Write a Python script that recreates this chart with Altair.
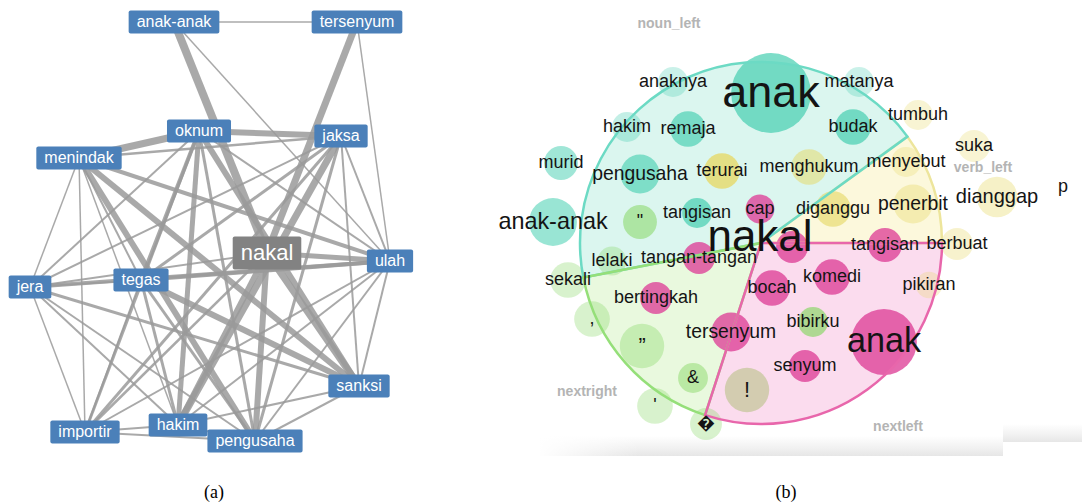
import math
import altair as alt
import pandas as pd

W, H = 1082, 503

# ---------------- (a) co-occurrence network ----------------
node_names = ["anak-anak", "tersenyum", "oknum", "jaksa", "menindak", "nakal", "ulah",
              "tegas", "jera", "sanksi", "hakim", "importir", "pengusaha"]
node_x = [174, 357, 199, 341, 79, 267, 390, 141, 30, 359, 178, 85, 255]
node_y = [22, 22, 131, 136, 158, 253, 261, 280, 287, 386, 425, 432, 441]

edge_src = ["anak-anak", "anak-anak", "anak-anak", "tersenyum", "tersenyum", "oknum", "menindak",
            "menindak", "menindak", "menindak", "menindak", "menindak", "menindak", "menindak",
            "menindak", "oknum", "oknum", "oknum", "oknum", "oknum", "oknum", "oknum", "jaksa",
            "jaksa", "jaksa", "jaksa", "jaksa", "jaksa", "jaksa", "nakal", "nakal", "nakal",
            "nakal", "nakal", "nakal", "tegas", "tegas", "tegas", "tegas", "tegas", "tegas",
            "jera", "jera", "jera", "jera", "jera", "importir", "importir", "importir", "hakim",
            "hakim", "hakim", "pengusaha", "pengusaha", "sanksi"]
edge_dst = ["tersenyum", "nakal", "ulah", "nakal", "ulah", "jaksa", "oknum",
            "jaksa", "sanksi", "pengusaha", "ulah", "tegas", "jera", "importir",
            "hakim", "sanksi", "hakim", "pengusaha", "importir", "tegas", "jera", "ulah", "hakim",
            "importir", "tegas", "jera", "ulah", "sanksi", "pengusaha", "ulah", "pengusaha", "hakim",
            "sanksi", "importir", "jera", "ulah", "sanksi", "hakim", "pengusaha", "jera", "importir",
            "ulah", "sanksi", "pengusaha", "hakim", "importir", "hakim", "pengusaha", "ulah", "pengusaha",
            "sanksi", "ulah", "sanksi", "ulah", "ulah"]
edge_w = [1.5, 8, 1.5, 7, 1.5, 6, 7,
          2.5, 6, 6, 4, 2, 1.5, 1.5,
          1.5, 6, 5, 3, 3, 4, 2, 2, 7,
          3, 3, 2, 2, 2, 3, 5, 6, 6,
          7, 2.5, 2, 4, 6, 3, 3, 2, 2,
          4, 3, 2, 2, 1.5, 2, 2, 2, 2,
          2, 2, 2, 2, 2]

# ---------------- (b) word pie around "nakal" ----------------
seg_names = ["noun_left", "verb_left", "nextleft", "nextright"]
seg_share = [155, 36, 108, 61]          # degrees of the circle per relation
seg_label_x = [669, 983, 898, 587]
seg_label_y = [24, 168, 427, 392]

b_word = ["anak", "anaknya", "matanya", "hakim", "remaja", "budak", "murid", "pengusaha",
          "tangisan", "anak-anak",
          "terurai", "menghukum", "tumbuh", "menyebut", "suka", "dianggap", "diganggu",
          "penerbit", "berbuat", "pikiran", "p",
          "cap", "tangisan", "komedi", "bocah", "", "tangan-tangan", "bertingkah",
          "tersenyum", "anak", "senyum",
          "\"", "bibirku", "lelaki", "sekali", ",", "\u201d", "&", "'", "\ufffd",
          "!"]
b_group = (["noun_left"] * 10 + ["verb_left"] * 11 + ["nextleft"] * 10
           + ["nextright"] * 9 + ["other"])
b_x = [771, 673, 859, 627, 688, 853, 561, 640, 697, 553,
       722, 809, 918, 906, 974, 997, 833, 913, 957, 929, 1063,
       760, 885, 832, 772, 792, 699, 656, 731, 884, 805,
       640, 813, 612, 568, 592, 642, 693, 655, 706,
       747]
b_y = [93, 82, 82, 127, 129, 127, 163, 174, 213, 222,
       171, 167, 115, 162, 146, 197, 209, 204, 244, 285, 187,
       209, 245, 277, 288, 247, 258, 298, 332, 342, 366,
       222, 322, 261, 280, 319, 346, 378, 406, 424,
       390]
b_freq = [100, 14, 14, 14, 20, 20, 18, 24, 14, 36,
          20, 20, 14, 14, 16, 26, 20, 24, 16, 11, 0,
          13, 18, 20, 20, 16, 16, 16, 24, 68, 16,
          18, 14, 13, 20, 20, 31, 14, 20, 16,
          31]
b_strength = [0.8, 0.25, 0.25, 0.3, 0.75, 0.8, 0.55, 0.7, 0.8, 0.6,
              0.9, 0.55, 0.25, 0.25, 0.25, 0.35, 0.7, 0.35, 0.3, 0.25, 0.0,
              0.9, 0.9, 0.9, 0.9, 0.9, 0.9, 0.9, 0.9, 0.9, 0.9,
              0.6, 0.75, 0.3, 0.3, 0.3, 0.35, 0.5, 0.3, 0.3,
              0.8]

captions = ["(a)", "(b)"]
caption_x = [214, 786]
caption_y = [493, 493]

# ---------------- styling helpers ----------------
FONT = "Liberation Sans"
CHAR_W = {"a": .556, "b": .556, "c": .5, "d": .556, "e": .556, "f": .278, "g": .556,
          "h": .556, "i": .222, "j": .222, "k": .5, "l": .222, "m": .833, "n": .556,
          "o": .556, "p": .556, "q": .556, "r": .333, "s": .5, "t": .278, "u": .556,
          "v": .5, "w": .722, "x": .5, "y": .5, "z": .5, "-": .333}


def text_width(s, fs):
    return sum(CHAR_W.get(c, .556) for c in s) * fs


xs = alt.Scale(domain=[0, W], nice=False, zero=False)
ys = alt.Scale(domain=[0, H], nice=False, zero=False, reverse=True)


def X(f):
    return alt.X(f, type="quantitative", scale=xs, axis=None)


def Y(f):
    return alt.Y(f, type="quantitative", scale=ys, axis=None)


# network tables
nodes = pd.DataFrame({"name": node_names, "x": node_x, "y": node_y})
nodes["key"] = nodes["name"] == "nakal"
nodes["fs"] = nodes["key"].map({True: 22, False: 16})
nodes["bw"] = [text_width(n, f) + 16 for n, f in zip(nodes["name"], nodes["fs"])]
nodes["bh"] = nodes["key"].map({True: 33, False: 23})
nodes["x0"] = nodes["x"] - nodes["bw"] / 2
nodes["x1"] = nodes["x"] + nodes["bw"] / 2
nodes["y0"] = nodes["y"] - nodes["bh"] / 2
nodes["y1"] = nodes["y"] + nodes["bh"] / 2
nodes["fill"] = nodes["key"].map({True: "#828282", False: "#4b80b9"})

pos = nodes.set_index("name")
edges = pd.DataFrame({"s": edge_src, "t": edge_dst, "w": edge_w})
edges["x"] = edges["s"].map(pos["x"])
edges["y"] = edges["s"].map(pos["y"])
edges["x2"] = edges["t"].map(pos["x"])
edges["y2"] = edges["t"].map(pos["y"])

edge_layer = alt.Chart(edges).mark_rule(color="#9a9a9a", opacity=0.85).encode(
    x=X("x"), y=Y("y"), x2="x2:Q", y2="y2:Q",
    strokeWidth=alt.StrokeWidth("w:Q", scale=None))
box_layer = alt.Chart(nodes).mark_rect(cornerRadius=2).encode(
    x=X("x0"), x2="x1:Q", y=Y("y0"), y2="y1:Q",
    color=alt.Color("fill:N", scale=None))
node_text = alt.Chart(nodes).mark_text(color="white", font=FONT, baseline="middle").encode(
    x=X("x"), y=Y("y"), text="name:N", size=alt.Size("fs:Q", scale=None))

# pie wedges
CX, CY, R = 761, 243, 181
START = 259  # clockwise angle (from 12 o'clock) where noun_left begins
seg = pd.DataFrame({"seg": seg_names, "share": seg_share})
ends = START + seg["share"].cumsum()
seg["t0"] = (ends - seg["share"]) * math.pi / 180
seg["t1"] = ends * math.pi / 180
seg["cx"], seg["cy"], seg["r"] = CX, CY, R
seg["fill"] = seg["seg"].map({"noun_left": "#dbf6ef", "verb_left": "#fcf8dc",
                              "nextleft": "#fbdcee", "nextright": "#e9f9de"})
seg["line"] = seg["seg"].map({"noun_left": "#6cdac4", "verb_left": "#ede59c",
                              "nextleft": "#e866ab", "nextright": "#95df79"})
outline = seg.set_index("seg").loc[["verb_left", "noun_left", "nextright", "nextleft"]].reset_index()

wedge_layer = alt.Chart(seg).mark_arc(stroke=None).encode(
    x=X("cx"), y=Y("cy"),
    theta=alt.Theta("t0:Q", scale=None, stack=False), theta2="t1:Q",
    radius=alt.Radius("r:Q", scale=None),
    color=alt.Color("fill:N", scale=None))
outline_layer = alt.Chart(outline).mark_arc(fillOpacity=0, strokeWidth=2.5).encode(
    x=X("cx"), y=Y("cy"),
    theta=alt.Theta("t0:Q", scale=None, stack=False), theta2="t1:Q",
    radius=alt.Radius("r:Q", scale=None),
    stroke=alt.Stroke("line:N", scale=None))

# word bubbles
words = pd.DataFrame({"word": b_word, "group": b_group, "x": b_x, "y": b_y,
                      "freq": b_freq, "strength": b_strength})
BUBBLE_MAX_R = 45
words["area"] = math.pi * (BUBBLE_MAX_R ** 2) * words["freq"] / 100
words["op"] = 0.1 + 0.75 * words["strength"]
words["col"] = words["group"].map({"noun_left": "#46cfb1", "verb_left": "#e6d865",
                                   "nextleft": "#dd3f97", "nextright": "#86d764",
                                   "other": "#c2c495"})
words["fs"] = (18 + (words["freq"] - 20) * 27 / 80).clip(18, 45)

bubble_layer = alt.Chart(words).mark_circle(stroke=None).encode(
    x=X("x"), y=Y("y"),
    size=alt.Size("area:Q", scale=None),
    color=alt.Color("col:N", scale=None),
    opacity=alt.Opacity("op:Q", scale=None))
word_layer = alt.Chart(words).mark_text(font=FONT, color="#141414", baseline="middle").encode(
    x=X("x"), y=Y("y"), text="word:N", size=alt.Size("fs:Q", scale=None))

center = pd.DataFrame({"word": ["nakal"], "x": [CX - 1], "y": [CY - 5]})
center_layer = alt.Chart(center).mark_text(font=FONT, color="#111111", fontSize=44,
                                           baseline="middle").encode(
    x=X("x"), y=Y("y"), text="word:N")

seg_labels = pd.DataFrame({"seg": seg_names, "x": seg_label_x, "y": seg_label_y})
seg_label_layer = alt.Chart(seg_labels).mark_text(font=FONT, fontWeight="bold", fontSize=14,
                                                  color="#b4b4b4", baseline="middle").encode(
    x=X("x"), y=Y("y"), text="seg:N")

# soft grey edge under the word pie, fading out towards the left
shade = pd.DataFrame({"x": [540, 1003], "x2": [1003, 1082], "y": [436, 424], "y2": [456, 442]})
shade_layer = alt.Chart(shade).mark_rect(
    color=alt.Gradient(gradient="linear",
                       stops=[alt.GradientStop(color="#ffffff", offset=0),
                              alt.GradientStop(color="#f1f1f1", offset=0.6),
                              alt.GradientStop(color="#e6e6e6", offset=1)],
                       x1=0, x2=0, y1=0, y2=1)).encode(
    x=X("x"), x2="x2:Q", y=Y("y"), y2="y2:Q")
fade = pd.DataFrame({"x": [538], "x2": [640], "y": [434], "y2": [458]})
fade_layer = alt.Chart(fade).mark_rect(
    color=alt.Gradient(gradient="linear",
                       stops=[alt.GradientStop(color="rgba(255,255,255,1)", offset=0),
                              alt.GradientStop(color="rgba(255,255,255,0)", offset=1)],
                       x1=0, x2=1, y1=0, y2=0)).encode(
    x=X("x"), x2="x2:Q", y=Y("y"), y2="y2:Q")

cap = pd.DataFrame({"t": captions, "x": caption_x, "y": caption_y})
caption_layer = alt.Chart(cap).mark_text(font="Liberation Serif", fontSize=18, color="#000000",
                                         baseline="middle").encode(
    x=X("x"), y=Y("y"), text="t:N")

chart = alt.layer(
    edge_layer, box_layer, node_text,
    shade_layer, fade_layer, wedge_layer, bubble_layer, outline_layer,
    word_layer, center_layer, seg_label_layer, caption_layer,
).properties(
    width=W, height=H, padding=0, background="white",
    autosize=alt.AutoSizeParams(type="none"),
).configure_view(stroke=None)

chart.save("out.html", embed_options={"renderer": "svg", "actions": False})
